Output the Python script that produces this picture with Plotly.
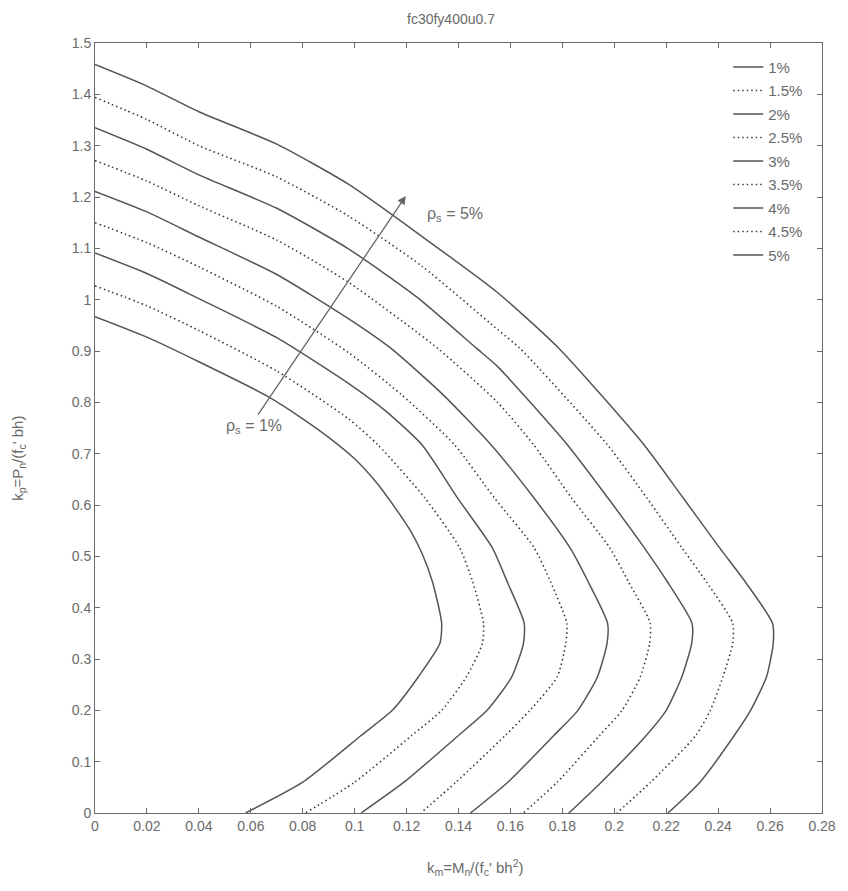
import plotly.graph_objects as go

# ---- data ----
legend_labels = ["1%", "1.5%", "2%", "2.5%", "3%", "3.5%", "4%", "4.5%", "5%"]
line_styles = ["solid", "dot", "solid", "dot", "solid", "dot", "solid", "dot", "solid"]

km_10 = [0, 0.020, 0.040, 0.066, 0.080, 0.091, 0.100, 0.109, 0.1165, 0.1217, 0.1260, 0.1300, 0.1335, 0.1328, 0.1245, 0.1145, 0.1025, 0.080, 0.058]
kp_10 = [0.967, 0.927, 0.879, 0.813, 0.768, 0.728, 0.690, 0.640, 0.588, 0.548, 0.505, 0.450, 0.370, 0.330, 0.265, 0.200, 0.151, 0.060, 0.0]

km_15 = [0, 0.020, 0.040, 0.070, 0.0976, 0.109, 0.127, 0.1404, 0.1455, 0.1496, 0.1492, 0.1430, 0.1335, 0.122, 0.100, 0.081]
kp_15 = [1.027, 0.988, 0.940, 0.861, 0.768, 0.717, 0.614, 0.517, 0.450, 0.370, 0.330, 0.265, 0.200, 0.151, 0.060, 0.0]

km_20 = [0, 0.020, 0.040, 0.070, 0.0976, 0.112, 0.126, 0.1396, 0.153, 0.1588, 0.1653, 0.1650, 0.1605, 0.151, 0.140, 0.119, 0.1025]
kp_20 = [1.091, 1.051, 1.002, 0.926, 0.837, 0.783, 0.717, 0.614, 0.517, 0.450, 0.370, 0.330, 0.265, 0.200, 0.151, 0.060, 0.0]

km_25 = [0, 0.020, 0.040, 0.070, 0.0976, 0.118, 0.1385, 0.1538, 0.1691, 0.1755, 0.1817, 0.1813, 0.1780, 0.1675, 0.158, 0.139, 0.1255]
kp_25 = [1.150, 1.111, 1.064, 0.987, 0.897, 0.815, 0.717, 0.614, 0.517, 0.450, 0.370, 0.330, 0.265, 0.200, 0.151, 0.060, 0.0]

km_30 = [0, 0.020, 0.040, 0.070, 0.0976, 0.114, 0.134, 0.1526, 0.169, 0.1829, 0.190, 0.1974, 0.1972, 0.1935, 0.186, 0.1767, 0.159, 0.1446]
kp_30 = [1.211, 1.171, 1.122, 1.049, 0.963, 0.905, 0.815, 0.717, 0.614, 0.517, 0.450, 0.370, 0.330, 0.265, 0.200, 0.151, 0.060, 0.0]

km_35 = [0, 0.020, 0.040, 0.070, 0.0976, 0.132, 0.155, 0.169, 0.1835, 0.1982, 0.2055, 0.2138, 0.2136, 0.2100, 0.203, 0.1943, 0.178, 0.165]
kp_35 = [1.271, 1.231, 1.183, 1.116, 1.034, 0.905, 0.800, 0.717, 0.614, 0.517, 0.450, 0.370, 0.330, 0.265, 0.200, 0.151, 0.060, 0.0]

km_40 = [0, 0.020, 0.040, 0.070, 0.0976, 0.124, 0.147, 0.155, 0.182, 0.1975, 0.2115, 0.2205, 0.2299, 0.2298, 0.2260, 0.220, 0.2123, 0.195, 0.1825]
kp_40 = [1.335, 1.293, 1.243, 1.178, 1.099, 1.005, 0.905, 0.870, 0.717, 0.614, 0.517, 0.450, 0.370, 0.330, 0.265, 0.200, 0.151, 0.060, 0.0]

km_45 = [0, 0.020, 0.040, 0.070, 0.0976, 0.126, 0.155, 0.1637, 0.1974, 0.2125, 0.226, 0.2355, 0.2456, 0.2456, 0.2418, 0.237, 0.2314, 0.214, 0.201]
kp_45 = [1.394, 1.351, 1.300, 1.239, 1.163, 1.065, 0.942, 0.905, 0.717, 0.614, 0.517, 0.450, 0.370, 0.330, 0.265, 0.200, 0.151, 0.060, 0.0]

km_50 = [0, 0.020, 0.040, 0.070, 0.0976, 0.126, 0.155, 0.1787, 0.2115, 0.2265, 0.2405, 0.2505, 0.2609, 0.2612, 0.2586, 0.2525, 0.2462, 0.233, 0.2207]
kp_50 = [1.458, 1.416, 1.366, 1.303, 1.225, 1.123, 1.014, 0.905, 0.717, 0.614, 0.517, 0.450, 0.370, 0.330, 0.265, 0.200, 0.151, 0.060, 0.0]

x_ticks = [0, 0.02, 0.04, 0.06, 0.08, 0.1, 0.12, 0.14, 0.16, 0.18, 0.2, 0.22, 0.24, 0.26, 0.28]
x_tick_text = ["0", "0.02", "0.04", "0.06", "0.08", "0.1", "0.12", "0.14", "0.16", "0.18", "0.2", "0.22", "0.24", "0.26", "0.28"]
y_ticks = [0, 0.1, 0.2, 0.3, 0.4, 0.5, 0.6, 0.7, 0.8, 0.9, 1.0, 1.1, 1.2, 1.3, 1.4, 1.5]
y_tick_text = ["0", "0.1", "0.2", "0.3", "0.4", "0.5", "0.6", "0.7", "0.8", "0.9", "1", "1.1", "1.2", "1.3", "1.4", "1.5"]

# arrow annotation (from rho_s = 1% towards rho_s = 5%)
arrow_start = (0.0624, 0.773)
arrow_end = (0.1197, 1.202)
label_low = (0.0612, 0.752)
label_high = (0.1385, 1.165)

curves_km = [km_10, km_15, km_20, km_25, km_30, km_35, km_40, km_45, km_50]
curves_kp = [kp_10, kp_15, kp_20, kp_25, kp_30, kp_35, kp_40, kp_45, kp_50]

FONT = "Liberation Sans, Arial, sans-serif"
TXT = "#6a6a6a"

fig = go.Figure()
for i, (lab, sty) in enumerate(zip(legend_labels, line_styles)):
    if sty == "solid":
        line = dict(color="#555555", width=1.5, dash="solid")
    else:
        line = dict(color="#3a3a3a", width=1.6, dash="1.5px,3px")
    fig.add_trace(go.Scatter(
        x=curves_km[i], y=curves_kp[i], mode="lines", name=lab,
        line=dict(**line, shape="spline", smoothing=0.6),
        legendgroup=lab,
    ))

fig.add_annotation(
    x=arrow_end[0], y=arrow_end[1], ax=arrow_start[0], ay=arrow_start[1],
    xref="x", yref="y", axref="x", ayref="y",
    showarrow=True, arrowhead=2, arrowsize=1.3, arrowwidth=1.3, arrowcolor="#666666",
    text="",
)
fig.add_annotation(
    x=label_low[0], y=label_low[1], xref="x", yref="y",
    xanchor="center", yanchor="middle",
    text="ρ<sub>s</sub> = 1%", showarrow=False,
    font=dict(family=FONT, size=16, color=TXT),
)
fig.add_annotation(
    x=label_high[0], y=label_high[1], xref="x", yref="y",
    xanchor="center", yanchor="middle",
    text="ρ<sub>s</sub> = 5%", showarrow=False,
    font=dict(family=FONT, size=16, color=TXT),
)

# axis titles and plot title
fig.add_annotation(
    x=0.524, y=-0.0714, xref="paper", yref="paper",
    xanchor="center", yanchor="middle",
    text="k<sub>m</sub>=M<sub>n</sub>/(f<sub>c</sub>' bh<sup>2</sup>)",
    showarrow=False, font=dict(family=FONT, size=15, color=TXT),
)
fig.add_annotation(
    x=-0.1045, y=0.46, xref="paper", yref="paper", textangle=-90,
    xanchor="center", yanchor="middle",
    text="k<sub>p</sub>=P<sub>n</sub>/(f<sub>c</sub>' bh)",
    showarrow=False, font=dict(family=FONT, size=15, color=TXT),
)
fig.add_annotation(
    x=0.49, y=1.031, xref="paper", yref="paper",
    xanchor="center", yanchor="middle",
    text="fc30fy400u0.7", showarrow=False,
    font=dict(family=FONT, size=14, color=TXT),
)

axis_common = dict(
    showline=True, linecolor="#6a6a6a", linewidth=1, mirror="ticks",
    ticks="inside", ticklen=5, tickcolor="#6a6a6a", showgrid=False, zeroline=False,
    tickfont=dict(family=FONT, size=14, color=TXT),
)
fig.update_xaxes(range=[0, 0.28], tickvals=x_ticks, ticktext=x_tick_text, **axis_common)
fig.update_yaxes(range=[0, 1.5], tickvals=y_ticks, ticktext=y_tick_text, **axis_common)

fig.update_layout(
    width=840, height=883,
    margin=dict(l=87, r=20, t=35, b=78),
    paper_bgcolor="white", plot_bgcolor="white",
    showlegend=True,
    legend=dict(
        x=0.871, y=0.99, xanchor="left", yanchor="top",
        bgcolor="rgba(255,255,255,0)", borderwidth=0,
        font=dict(family=FONT, size=15, color=TXT),
        tracegroupgap=1, itemwidth=30,
    ),
)

fig.write_html("out.html")
